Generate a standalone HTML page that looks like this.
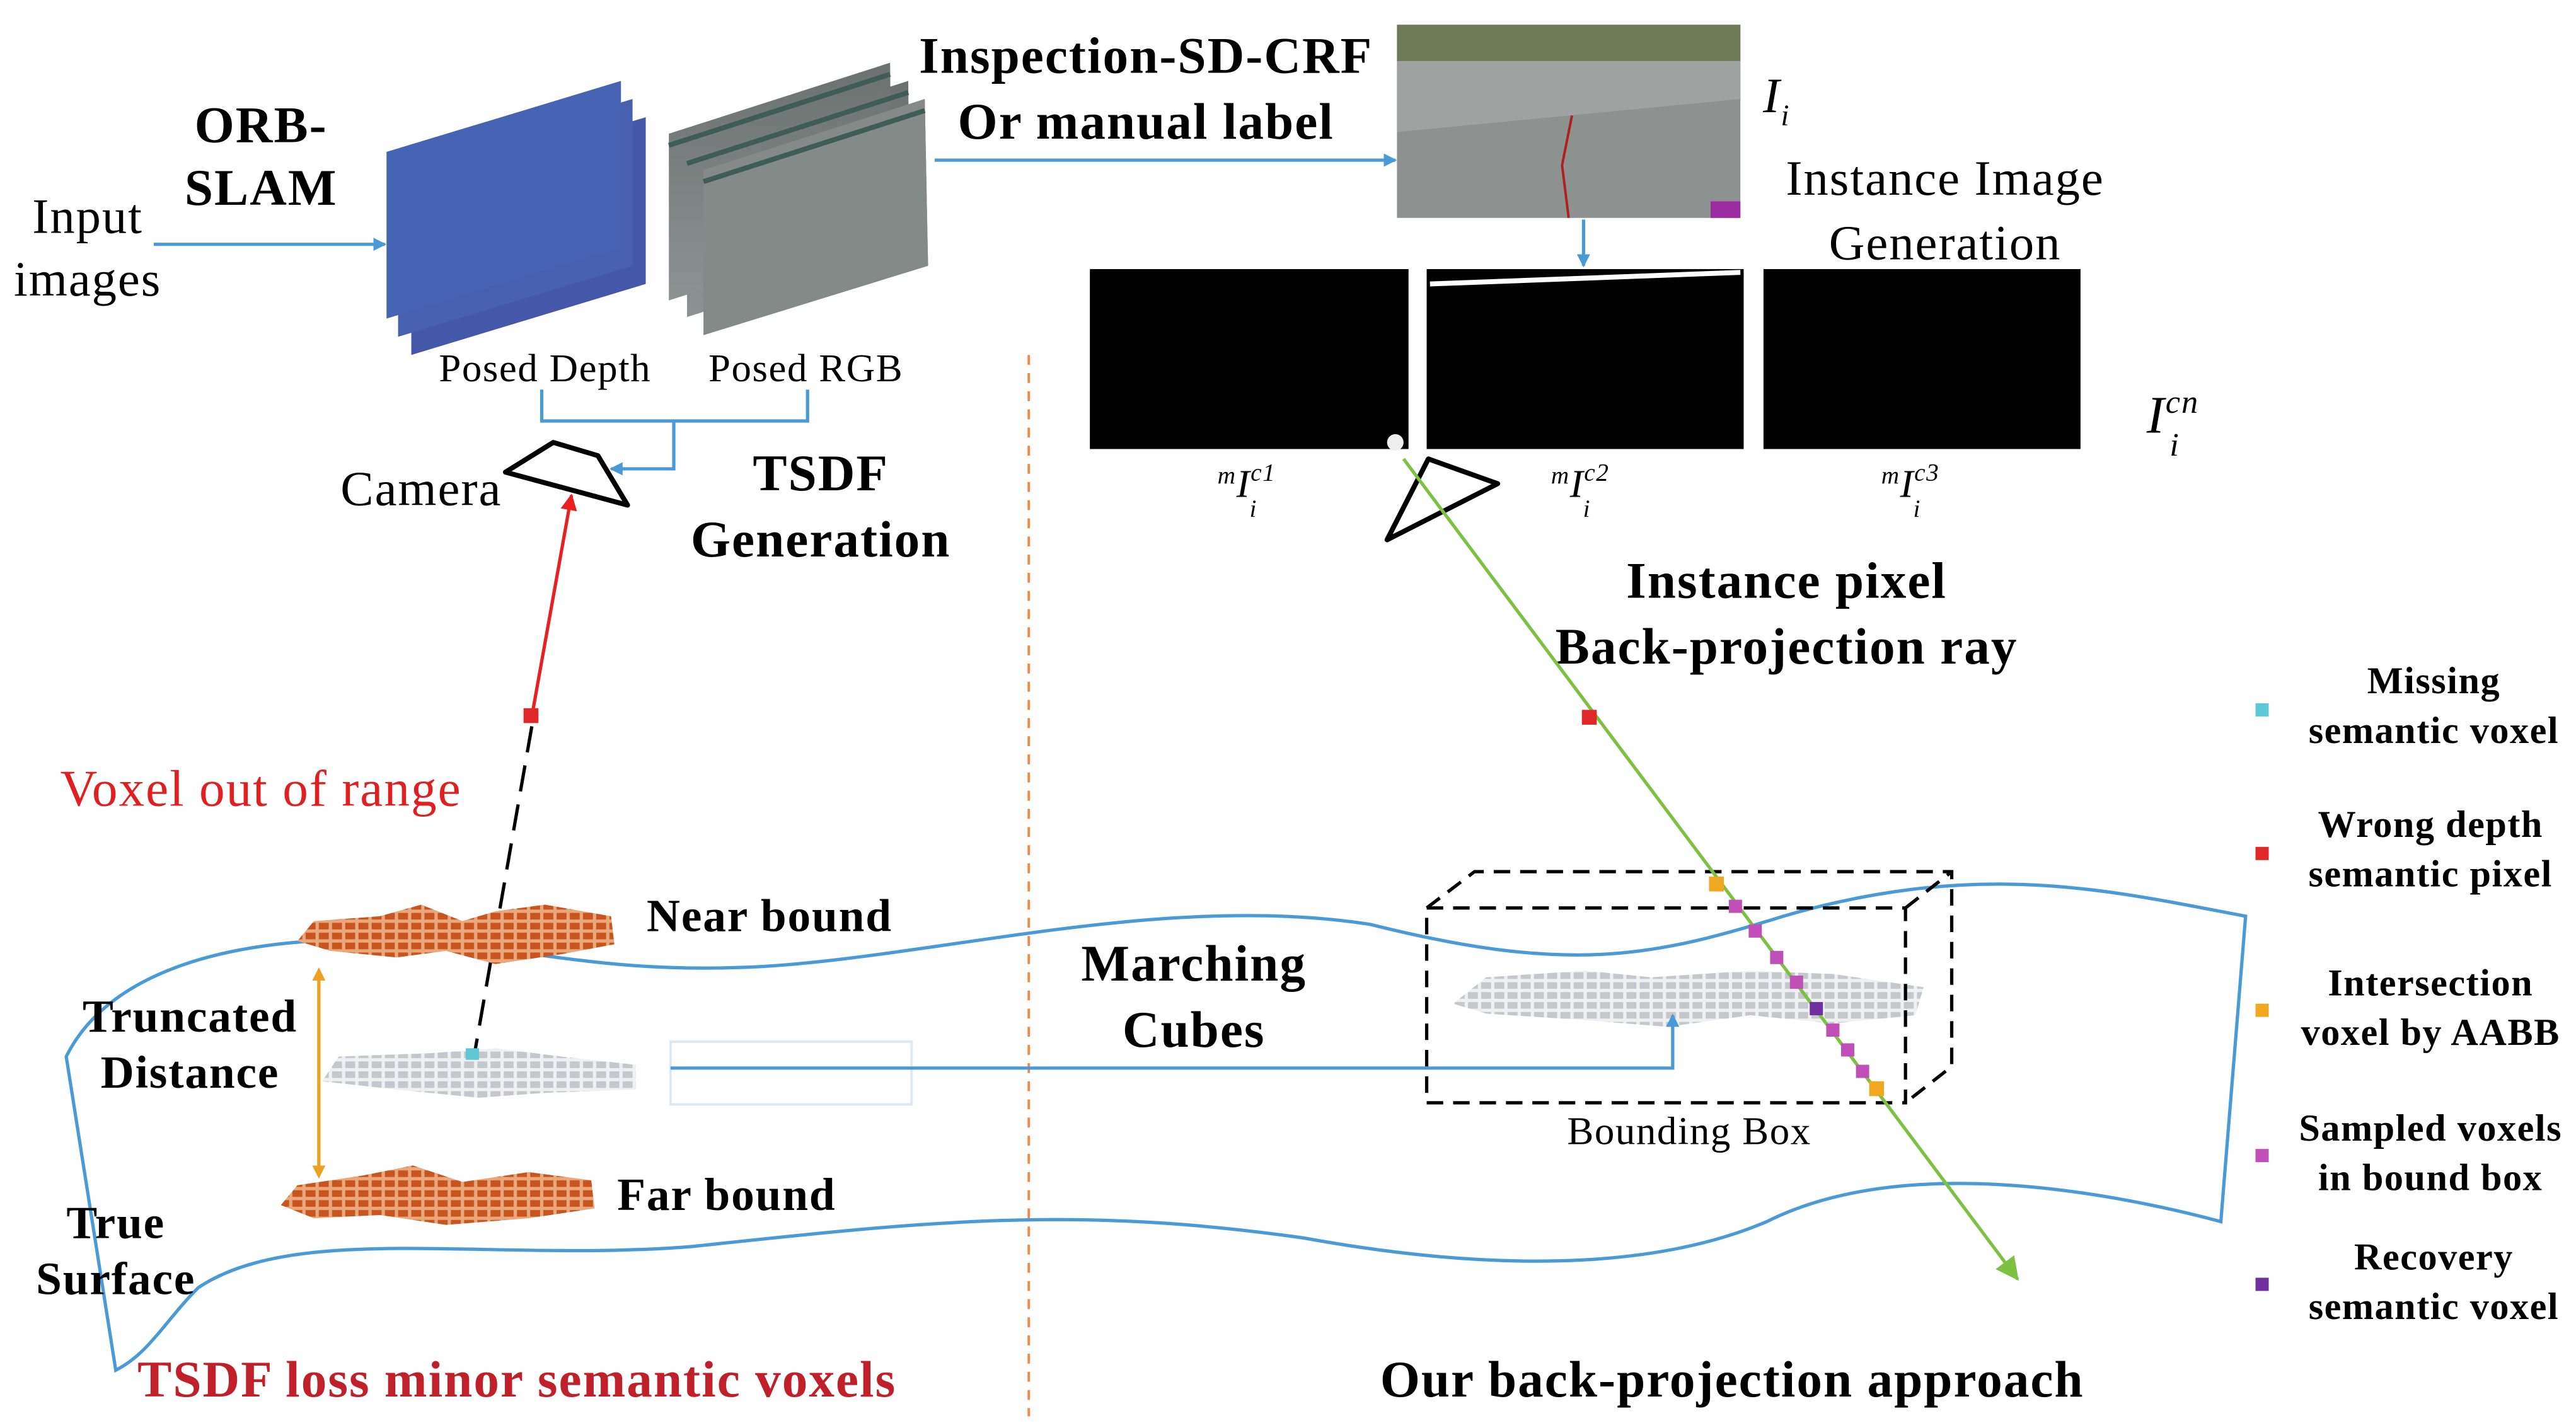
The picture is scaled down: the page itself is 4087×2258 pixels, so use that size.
<!DOCTYPE html>
<html><head><meta charset="utf-8"><style>
html,body{margin:0;padding:0;background:#fff}
svg{display:block}
text{font-family:"Liberation Serif",serif;letter-spacing:0.025em}
.b{font-weight:bold}
</style></head><body>
<svg width="4087" height="2258" viewBox="0 0 1560 862" xmlns="http://www.w3.org/2000/svg">
<defs>
<marker id="ab" markerWidth="8" markerHeight="8" refX="7" refY="4" orient="auto" markerUnits="userSpaceOnUse"><path d="M0,0 L8,4 L0,8z" fill="#4a9ad8"/></marker>
<marker id="ar" markerWidth="10" markerHeight="10" refX="9" refY="5" orient="auto" markerUnits="userSpaceOnUse"><path d="M0,0 L10,5 L0,10z" fill="#e82020"/></marker>
<marker id="ag" markerWidth="14" markerHeight="14" refX="13" refY="7" orient="auto" markerUnits="userSpaceOnUse"><path d="M0,0 L14,7 L0,14z" fill="#7cc142"/></marker>
<marker id="ao" markerWidth="8" markerHeight="8" refX="4" refY="4" orient="auto-start-reverse" markerUnits="userSpaceOnUse"><path d="M0,0 L8,4 L0,8z" fill="#f0a020"/></marker>
<pattern id="or" width="8" height="6" patternUnits="userSpaceOnUse"><rect width="8" height="6" fill="#e9a77a"/><rect x="1" y="1" width="6" height="4" fill="#c8541e"/></pattern>
<pattern id="gr" width="8" height="6" patternUnits="userSpaceOnUse"><rect width="8" height="6" fill="#eef0f2"/><rect x="1" y="1" width="6" height="4" fill="#c4c7cc"/></pattern>
<linearGradient id="rg" x1="0" y1="0" x2="0" y2="1"><stop offset="0" stop-color="#6a716f"/><stop offset="1" stop-color="#8c9392"/></linearGradient>
</defs>

<line x1="623" y1="215" x2="623" y2="858" stroke="#f08a4b" stroke-width="1.5" stroke-dasharray="6,5"/>

<text x="53" y="141" font-size="30" text-anchor="middle">Input</text>
<text x="53" y="179" font-size="30" text-anchor="middle">images</text>
<text x="158" y="86" font-size="31" class="b" text-anchor="middle">ORB-</text>
<text x="158" y="124" font-size="31" class="b" text-anchor="middle">SLAM</text>
<line x1="93" y1="148" x2="233" y2="148" stroke="#4a9ad8" stroke-width="2" marker-end="url(#ab)"/>

<polygon points="249,114 391,71 391,172 249,215" fill="#4457a8"/>
<polygon points="241,103 383,60 383,161 241,204" fill="#4760b0"/>
<polygon points="234,92 376,49 376,150 234,193" fill="#4763b3"/>
<polygon points="426,103 560,60 562,161 426,203" fill="url(#rg)"/>
<polygon points="416,92 550,49 551,150 416,192" fill="url(#rg)"/>
<polygon points="405,81 539,38 540,139 405,182" fill="url(#rg)"/>
<polygon points="426,103 560,60 562,161 426,203" fill="#838a88"/>
<line x1="405" y1="88" x2="539" y2="45" stroke="#3d5d55" stroke-width="3"/>
<line x1="416" y1="99" x2="550" y2="56" stroke="#3d5d55" stroke-width="3"/>
<line x1="426" y1="110" x2="560" y2="67" stroke="#3d5d55" stroke-width="3"/>

<text x="330" y="231" font-size="24" text-anchor="middle">Posed Depth</text>
<text x="488" y="231" font-size="24" text-anchor="middle">Posed RGB</text>
<polyline points="328,236 328,255 489,255 489,236" stroke="#4a9ad8" stroke-width="2" fill="none"/>
<polyline points="408,255 408,284 370,284" stroke="#4a9ad8" stroke-width="2" fill="none" marker-end="url(#ab)"/>

<text x="255" y="306" font-size="30" text-anchor="middle">Camera</text>
<polygon points="335,268 362,276 380,306 306,286" fill="#fff" stroke="#000" stroke-width="3" stroke-linejoin="round"/>
<text x="497" y="297" font-size="31" class="b" text-anchor="middle">TSDF</text>
<text x="497" y="337" font-size="31" class="b" text-anchor="middle">Generation</text>

<line x1="322" y1="434" x2="346" y2="300" stroke="#e82020" stroke-width="2" marker-end="url(#ar)"/>
<rect x="317" y="429" width="9" height="9" fill="#e02828"/>
<line x1="322" y1="440" x2="287" y2="640" stroke="#000" stroke-width="2" stroke-dasharray="16,8"/>
<text x="158" y="488" font-size="31" fill="#e02020" text-anchor="middle">Voxel out of range</text>

<path d="M40,640 C60,600 110,575 190,570 C300,565 340,590 450,586 C560,582 700,540 830,560 C950,590 1000,580 1080,555 C1200,520 1280,540 1360,555 L1345,740 C1270,720 1150,700 1070,740 C1000,770 900,770 790,750 C650,730 560,740 420,755 C300,765 180,740 120,780 C100,800 90,820 70,830 Z" fill="none" stroke="#4a9ad8" stroke-width="2"/>

<path d="M180,570 L190,558 L230,555 L255,548 L280,558 L300,552 L330,548 L370,555 L372,572 L340,578 L300,584 L270,576 L240,580 L200,576 Z" fill="url(#or)"/>
<path d="M195,655 L205,640 L260,638 L300,635 L340,640 L385,645 L385,660 L330,662 L290,665 L240,660 Z" fill="url(#gr)"/>
<rect x="282" y="635" width="8" height="7" fill="#5cc8d8"/>
<path d="M170,730 L180,718 L220,712 L250,706 L280,716 L320,710 L358,715 L360,732 L320,738 L270,742 L230,736 L190,738 Z" fill="url(#or)"/>
<path d="M880,608 L900,592 L960,588 L1000,592 L1060,588 L1110,590 L1165,598 L1160,615 L1110,620 L1060,615 L1010,622 L960,618 L900,614 Z" fill="url(#gr)"/>

<line x1="193" y1="590" x2="193" y2="710" stroke="#f0a020" stroke-width="2" marker-start="url(#ao)" marker-end="url(#ao)"/>

<text x="466" y="564" font-size="28" class="b" text-anchor="middle">Near  bound</text>
<text x="115" y="625" font-size="28" class="b" text-anchor="middle">Truncated</text>
<text x="115" y="659" font-size="28" class="b" text-anchor="middle">Distance</text>
<text x="440" y="733" font-size="28" class="b" text-anchor="middle">Far  bound</text>
<text x="70" y="750" font-size="28" class="b" text-anchor="middle">True</text>
<text x="70" y="784" font-size="28" class="b" text-anchor="middle">Surface</text>
<text x="313" y="846" font-size="31" class="b" fill="#c0202a" text-anchor="middle">TSDF loss minor semantic voxels</text>

<rect x="406" y="631" width="146" height="38" fill="none" stroke="#dce8f4" stroke-width="1.5"/>
<polyline points="406,647 1013,647 1013,615" stroke="#4a9ad8" stroke-width="2" fill="none" marker-end="url(#ab)"/>
<text x="723" y="594" font-size="31" class="b" text-anchor="middle">Marching</text>
<text x="723" y="634" font-size="31" class="b" text-anchor="middle">Cubes</text>

<text x="694" y="44" font-size="31" class="b" text-anchor="middle">Inspection-SD-CRF</text>
<text x="694" y="84" font-size="31" class="b" text-anchor="middle">Or manual label</text>
<line x1="566" y1="97" x2="845" y2="97" stroke="#4a9ad8" stroke-width="2" marker-end="url(#ab)"/>
<rect x="846" y="15" width="208" height="117" fill="#8d9190"/>
<rect x="846" y="15" width="208" height="22" fill="#6c7a58"/>
<path d="M846,37 L1054,37 L1054,60 L846,80Z" fill="#9ea2a0"/>
<path d="M950,132 L946,100 L952,70" stroke="#b02020" stroke-width="1.5" fill="none"/>
<rect x="1036" y="122" width="18" height="10" fill="#9c2aa0"/>
<text x="1076" y="68" font-size="30" font-style="italic" text-anchor="middle">I<tspan font-size="18" dy="8">i</tspan></text>
<text x="1178" y="118" font-size="30" text-anchor="middle">Instance Image</text>
<text x="1178" y="157" font-size="30" text-anchor="middle">Generation</text>
<line x1="959" y1="133" x2="959" y2="161" stroke="#4a9ad8" stroke-width="2" marker-end="url(#ab)"/>
<rect x="660" y="163" width="193" height="109" fill="#000"/>
<rect x="864" y="163" width="192" height="109" fill="#000"/>
<path d="M866,172 L1054,165" stroke="#fff" stroke-width="3"/>
<rect x="1068" y="163" width="192" height="109" fill="#000"/>
<circle cx="845" cy="268" r="5" fill="#eee"/>
<text x="1316" y="262" font-size="32" font-style="italic" text-anchor="middle">I<tspan font-size="20" dy="-12">cn</tspan><tspan font-size="20" dx="-18" dy="26">i</tspan></text>
<text x="755" y="301" font-size="24" font-style="italic" text-anchor="middle"><tspan font-size="15" dy="-8">m</tspan><tspan dy="8">I</tspan><tspan font-size="15" dy="-10">c1</tspan><tspan font-size="15" dx="-16" dy="22">i</tspan></text>
<text x="957" y="301" font-size="24" font-style="italic" text-anchor="middle"><tspan font-size="15" dy="-8">m</tspan><tspan dy="8">I</tspan><tspan font-size="15" dy="-10">c2</tspan><tspan font-size="15" dx="-16" dy="22">i</tspan></text>
<text x="1157" y="301" font-size="24" font-style="italic" text-anchor="middle"><tspan font-size="15" dy="-8">m</tspan><tspan dy="8">I</tspan><tspan font-size="15" dy="-10">c3</tspan><tspan font-size="15" dx="-16" dy="22">i</tspan></text>
<polygon points="865,278 907,293 840,327" fill="#fff" stroke="#000" stroke-width="3" stroke-linejoin="round"/>

<text x="1082" y="362" font-size="31" class="b" text-anchor="middle">Instance pixel</text>
<text x="1082" y="402" font-size="31" class="b" text-anchor="middle">Back-projection ray</text>

<g stroke="#000" stroke-width="2" stroke-dasharray="10,6" fill="none">
<rect x="864" y="550" width="290" height="118"/>
<polyline points="864,550 893,528 1182,528 1182,646 1154,668"/>
<line x1="1154" y1="550" x2="1182" y2="528"/>
</g>
<text x="1023" y="693" font-size="24" text-anchor="middle">Bounding Box</text>

<line x1="850" y1="278" x2="1222" y2="775" stroke="#7cc142" stroke-width="2" marker-end="url(#ag)"/>
<rect x="958" y="430" width="9" height="9" fill="#e02828"/>
<rect x="1035" y="531" width="9" height="9" fill="#f0a820"/>
<rect x="1047" y="545" width="8" height="8" fill="#c050b8"/>
<rect x="1059" y="560" width="8" height="8" fill="#c050b8"/>
<rect x="1072" y="576" width="8" height="8" fill="#c050b8"/>
<rect x="1084" y="591" width="8" height="8" fill="#c050b8"/>
<rect x="1096" y="607" width="8" height="8" fill="#7030a0"/>
<rect x="1106" y="620" width="8" height="8" fill="#c050b8"/>
<rect x="1115" y="632" width="8" height="8" fill="#c050b8"/>
<rect x="1124" y="645" width="8" height="8" fill="#c050b8"/>
<rect x="1132" y="655" width="9" height="9" fill="#f0a820"/>

<text x="1049" y="846" font-size="31" class="b" text-anchor="middle">Our back-projection approach</text>

<g font-size="23" class="b" text-anchor="middle">
<rect x="1366" y="426" width="8" height="8" fill="#5cc8d8"/>
<text x="1474" y="420">Missing</text><text x="1474" y="450">semantic voxel</text>
<rect x="1366" y="513" width="8" height="8" fill="#e02828"/>
<text x="1472" y="507">Wrong depth</text><text x="1472" y="537">semantic pixel</text>
<rect x="1366" y="608" width="8" height="8" fill="#f0a820"/>
<text x="1472" y="603">Intersection</text><text x="1472" y="633">voxel by AABB</text>
<rect x="1366" y="696" width="8" height="8" fill="#c050b8"/>
<text x="1472" y="691">Sampled voxels</text><text x="1472" y="721">in bound box</text>
<rect x="1366" y="774" width="8" height="8" fill="#7030a0"/>
<text x="1474" y="769">Recovery</text><text x="1474" y="799">semantic voxel</text>
</g>
</svg>
</body></html>
